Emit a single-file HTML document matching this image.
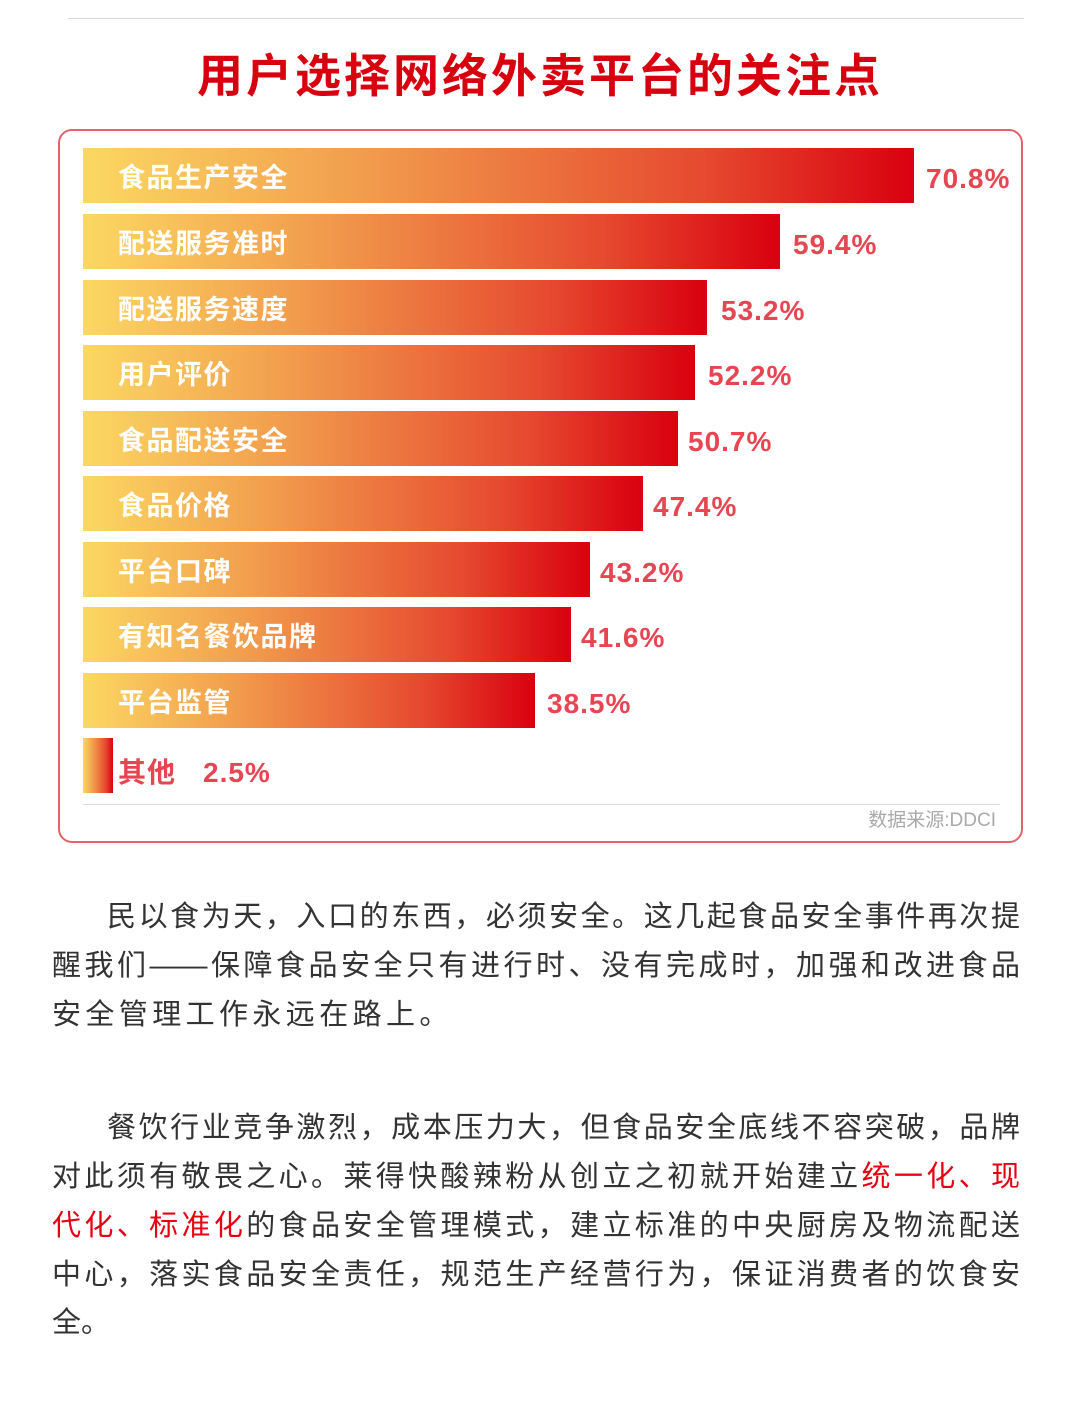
<!DOCTYPE html>
<html><head><meta charset="utf-8"><style>
body{margin:0;width:1080px;height:1412px;background:#fff;position:relative;overflow:hidden;font-family:"Liberation Sans","Noto Sans CJK SC",sans-serif}
.abs{position:absolute}
.bar{position:absolute;left:83px;height:55px;background:linear-gradient(90deg,#fbd862 0%,#f19a4c 35%,#e6492f 75%,#d9000f 100%)}
.lb{position:absolute;left:118px;color:#fff;font-weight:bold;font-size:27px;line-height:55px;letter-spacing:1.5px;margin-top:3px}
.v{position:absolute;color:#e84552;font-weight:bold;font-size:28px;line-height:55px;letter-spacing:1px;margin-top:3px}
.p{position:absolute;left:52px;width:968px;font-size:29px;color:#333;line-height:49px;text-align-last:justify;white-space:nowrap}
.r{color:#e60012}
</style></head><body>
<div class="abs" style="left:68px;top:18px;width:956px;height:1px;background:#d8d8d8"></div>
<div class="abs" style="left:0;width:1080px;top:45px;text-align:center;font-size:46px;font-weight:bold;color:#d7000f;letter-spacing:3px;line-height:62px">用户选择网络外卖平台的关注点</div>
<div class="abs" style="left:58px;top:129px;width:961px;height:710px;border:2px solid #e2646b;border-radius:14px"></div>

<div class="bar" style="top:148px;width:831px"></div><div class="lb" style="top:148px">食品生产安全</div><div class="v" style="top:148px;left:926px">70.8%</div>
<div class="bar" style="top:214px;width:697px"></div><div class="lb" style="top:214px">配送服务准时</div><div class="v" style="top:214px;left:793px">59.4%</div>
<div class="bar" style="top:280px;width:624px"></div><div class="lb" style="top:280px">配送服务速度</div><div class="v" style="top:280px;left:721px">53.2%</div>
<div class="bar" style="top:345px;width:612px"></div><div class="lb" style="top:345px">用户评价</div><div class="v" style="top:345px;left:708px">52.2%</div>
<div class="bar" style="top:411px;width:595px"></div><div class="lb" style="top:411px">食品配送安全</div><div class="v" style="top:411px;left:688px">50.7%</div>
<div class="bar" style="top:476px;width:560px"></div><div class="lb" style="top:476px">食品价格</div><div class="v" style="top:476px;left:653px">47.4%</div>
<div class="bar" style="top:542px;width:507px"></div><div class="lb" style="top:542px">平台口碑</div><div class="v" style="top:542px;left:600px">43.2%</div>
<div class="bar" style="top:607px;width:488px"></div><div class="lb" style="top:607px">有知名餐饮品牌</div><div class="v" style="top:607px;left:581px">41.6%</div>
<div class="bar" style="top:673px;width:452px"></div><div class="lb" style="top:673px">平台监管</div><div class="v" style="top:673px;left:547px">38.5%</div>
<div class="bar" style="top:738px;width:30px"></div><div class="v" style="top:742px;left:118px">其他</div><div class="v" style="top:742px;left:203px">2.5%</div>
<div class="abs" style="left:83px;top:804px;width:917px;height:1px;background:#dcdcdc"></div>
<div class="abs" style="right:84px;top:808px;font-size:19px;color:#aaa;line-height:26px">数据来源:DDCI</div>

<div class="p" style="top:893px;left:107px;width:913px">民以食为天，入口的东西，必须安全。这几起食品安全事件再次提</div>
<div class="p" style="top:942px">醒我们——保障食品安全只有进行时、没有完成时，加强和改进食品</div>
<div class="p" style="top:991px;text-align-last:left;letter-spacing:4.4px">安全管理工作永远在路上。</div>

<div class="p" style="top:1104px;left:107px;width:913px">餐饮行业竞争激烈，成本压力大，但食品安全底线不容突破，品牌</div>
<div class="p" style="top:1153px">对此须有敬畏之心。莱得快酸辣粉从创立之初就开始建立<span class="r">统一化、现</span></div>
<div class="p" style="top:1202px"><span class="r">代化、标准化</span>的食品安全管理模式，建立标准的中央厨房及物流配送</div>
<div class="p" style="top:1251px">中心，落实食品安全责任，规范生产经营行为，保证消费者的饮食安</div>
<div class="p" style="top:1299px;text-align-last:left">全。</div>
</body></html>
